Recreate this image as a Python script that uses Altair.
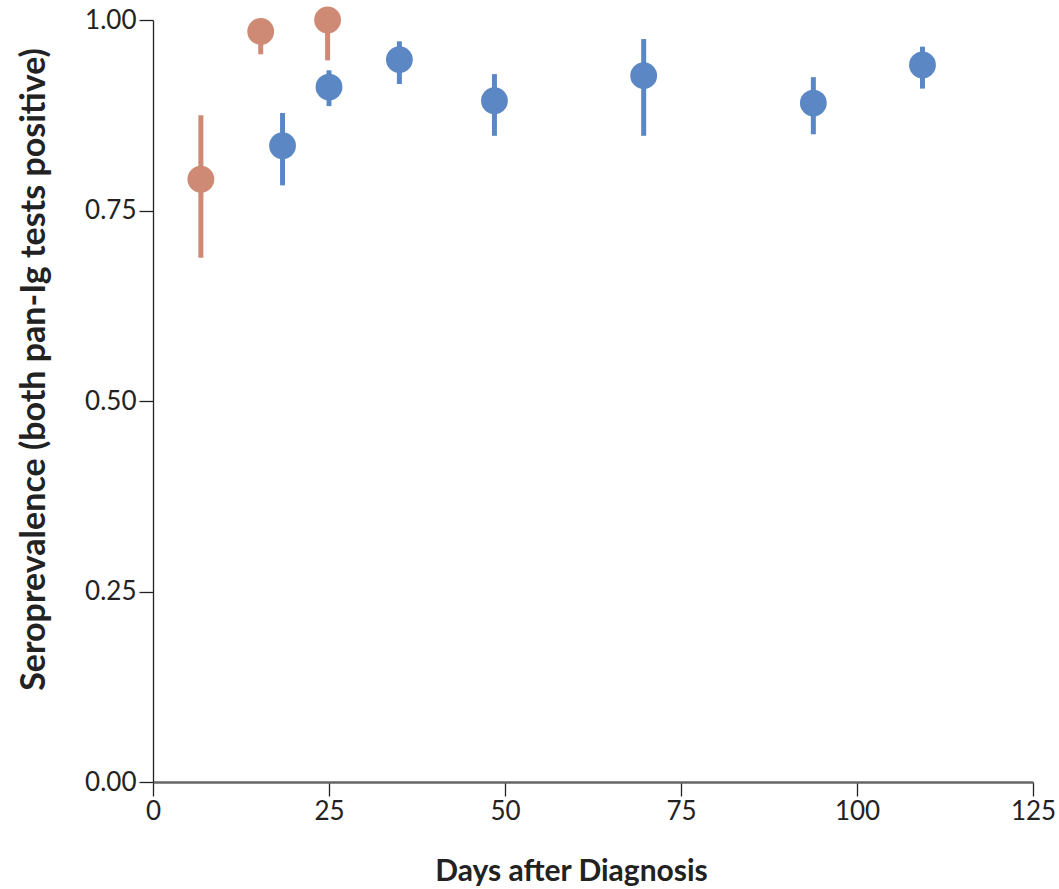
import altair as alt
import pandas as pd

# Early group (orange)
early_days = [6.8, 15.3, 24.8]
early_value = [0.791, 0.985, 1.0]
early_lower = [0.688, 0.955, 0.947]
early_upper = [0.875, 0.992, 1.0]

# Later group (blue)
late_days = [18.4, 25.0, 35.0, 48.5, 69.7, 93.8, 109.3]
late_value = [0.835, 0.912, 0.948, 0.894, 0.927, 0.891, 0.941]
late_lower = [0.783, 0.887, 0.916, 0.848, 0.848, 0.850, 0.910]
late_upper = [0.878, 0.934, 0.972, 0.929, 0.975, 0.925, 0.965]

x_ticks = [0, 25, 50, 75, 100, 125]
y_ticks = [0.0, 0.25, 0.5, 0.75, 1.0]

rows = []
for d, v, lo, hi in zip(early_days, early_value, early_lower, early_upper):
    rows.append({"group": "early", "day": d, "value": v, "lower": lo, "upper": hi})
for d, v, lo, hi in zip(late_days, late_value, late_lower, late_upper):
    rows.append({"group": "late", "day": d, "value": v, "lower": lo, "upper": hi})
df = pd.DataFrame(rows)

label_font = "Lato"
title_font = "Lato"

color = alt.Color("group:N",
                  scale=alt.Scale(domain=["early", "late"], range=["#CE8A74", "#5B88C4"]),
                  legend=None)

x = alt.X("day:Q",
          scale=alt.Scale(domain=[0, 125], nice=False, zero=False),
          axis=alt.Axis(values=x_ticks, title="Days after Diagnosis", grid=False,
                        format="d", labelFlush=False, labelOverlap=False,
                        labelFont=label_font, labelFontSize=26, labelColor="#222",
                        labelPadding=2, tickSize=14, tickColor="#222", tickWidth=1.3,
                        domainColor="#666", domainWidth=2.5,
                        titleFont=title_font, titleFontSize=30, titleFontWeight="bold",
                        titleColor="#222", titleX=418, titleY=89,
                        titleBaseline="middle", titleAlign="center"))
y = alt.Y("value:Q",
          scale=alt.Scale(domain=[0, 1], nice=False),
          axis=alt.Axis(values=y_ticks, title="Seroprevalence (both pan-Ig tests positive)",
                        grid=False, format=".2f", labelFlush=False, labelOverlap=False,
                        labelFont=label_font, labelFontSize=26, labelColor="#222",
                        labelPadding=3, tickSize=14, tickColor="#222", tickWidth=1.3,
                        domainColor="#222", domainWidth=1.3,
                        titleFont=title_font, titleFontSize=34, titleFontWeight="bold",
                        titleColor="#222", titleX=-119, titleY=349, titleAngle=-90,
                        titleBaseline="middle", titleAlign="center"))

bars = alt.Chart(df).mark_rule(strokeWidth=5).encode(
    x=x, y=alt.Y("lower:Q", scale=alt.Scale(domain=[0, 1], nice=False)),
    y2="upper:Q", color=color)

points = alt.Chart(df).mark_circle(size=720, opacity=1).encode(
    x=x, y=y, color=color)

chart = alt.layer(bars, points).properties(
    width=880, height=762,
    autosize=alt.AutoSizeParams(type="none"),
    padding={"left": 153, "top": 20, "right": 26, "bottom": 107},
    background="white",
).configure_view(stroke=None)

chart.save("out.html", embed_options={"renderer": "svg", "actions": False})
